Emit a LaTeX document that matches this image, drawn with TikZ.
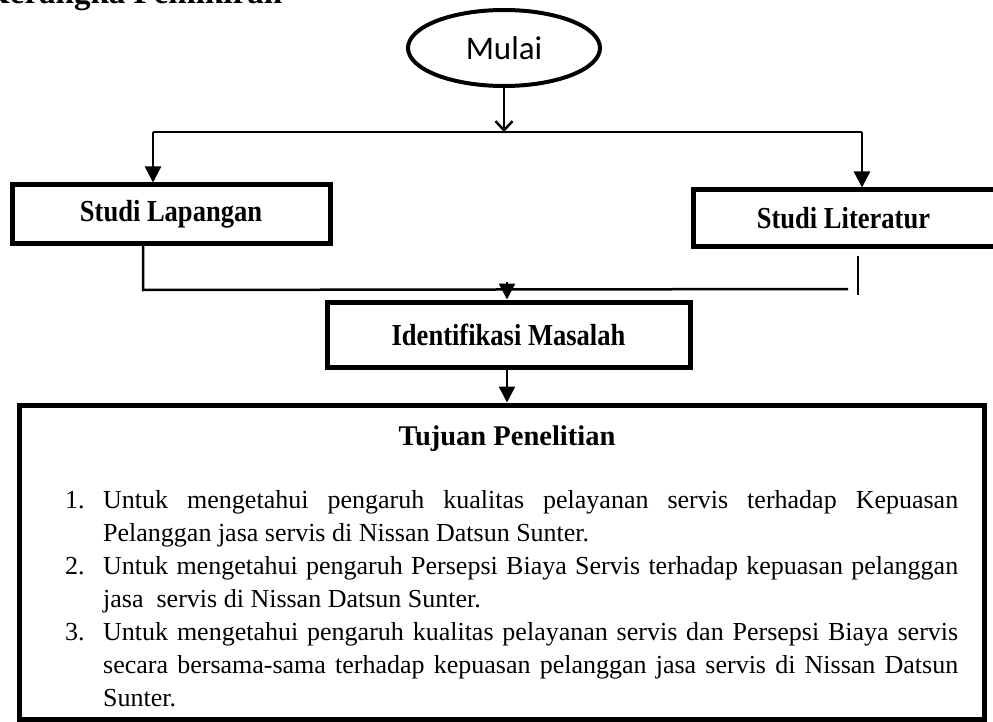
\documentclass[tikz,border=0pt]{standalone}
\usepackage{fontspec}
\usepackage{graphicx}
\setmainfont{Liberation Serif}
\newfontfamily\calibfont{Carlito}
\usetikzlibrary{shapes.geometric,arrows.meta}
\tikzset{
  boxstyle/.style={draw, line width=5pt, rectangle, inner sep=0pt},
  boxlabel/.style={font=\bfseries\fontsize{30.5}{30.5}\selectfont},
  conn/.style={line width=2.5pt},
  arr/.style={conn, -{Triangle[length=16pt,width=16pt]}},
  itemtext/.style={anchor=base west, text width=855pt, align=justify, inner sep=0pt,
    font=\fontsize{26}{33}\selectfont},
  itemnum/.style={anchor=base west, inner sep=0pt, font=\fontsize{26}{33}\selectfont},
}
\newcommand{\cond}[1]{\scalebox{0.87}[1]{#1}}
\begin{document}
\begin{tikzpicture}[x=1pt,y=-1pt]
\useasboundingbox (0,0) rectangle (993,722);
\clip (0,0) rectangle (993,722);
\fill[white] (0,0) rectangle (993,722);
% cut-off heading
\node[anchor=base west, inner sep=0pt, font=\bfseries\fontsize{33}{33}\selectfont] (hd) at (-16,4) {Kerangka Pemikiran};
% nodes
\node[draw, ellipse, line width=4pt, minimum width=192pt, minimum height=76pt, inner sep=0pt,
      font=\calibfont\fontsize{33}{33}\selectfont] (mulai) at (504,48) {Mulai};
\node[boxstyle, minimum width=318pt, minimum height=58pt, boxlabel] (lap) at (171,214) {\cond{Studi Lapangan}};
\node[boxstyle, minimum width=305pt, minimum height=56pt, boxlabel] (lit) at (845.5,218) {\hspace*{-4pt}\cond{Studi Literatur}};
\node[boxstyle, minimum width=363pt, minimum height=65pt, boxlabel] (idm) at (508.5,334.5) {\cond{Identifikasi Masalah}};
\node[boxstyle, minimum width=965pt, minimum height=314pt] (tuj) at (501.5,562) {};
% contents of the Tujuan box
\node[anchor=base, inner sep=0pt, font=\bfseries\fontsize{28.5}{28.5}\selectfont] (tt) at (507,445) {Tujuan Penelitian};
\node[itemnum] (n1) at (65,508) {1.};
\node[itemtext] (i1) at (103,508) {\hyphenpenalty=10000\exhyphenpenalty=10000 Untuk mengetahui pengaruh kualitas pelayanan servis terhadap Kepuasan\linebreak Pelanggan jasa servis di Nissan Datsun Sunter.};
\node[itemnum] (n2) at (65,574) {2.};
\node[itemtext] (i2) at (103,574) {\hyphenpenalty=10000\exhyphenpenalty=10000 Untuk mengetahui pengaruh Persepsi Biaya Servis terhadap kepuasan pelanggan\linebreak jasa\ \ servis di Nissan Datsun Sunter.};
\node[itemnum] (n3) at (65,640) {3.};
\node[itemtext] (i3) at (103,640) {\hyphenpenalty=10000\exhyphenpenalty=10000 Untuk mengetahui pengaruh kualitas pelayanan servis dan Persepsi Biaya servis\linebreak secara bersama-sama terhadap kepuasan pelanggan jasa servis di Nissan Datsun\linebreak Sunter.};
% coordinates for connectors
\coordinate (jl) at (153,132);
\coordinate (jr) at (862,132);
\coordinate (bl) at (143,290);
\coordinate (br) at (848,289);
\coordinate (rv1) at (858,256);
\coordinate (rv2) at (858,295);
\coordinate (ia) at (507,282);
% connectors
\draw[conn, -{Straight Barb[length=9pt,width=17pt,line width=2.5pt]}] (mulai.south) -- (mulai.south |- jl);
\draw[conn] (jl) -- (jr);
\draw[arr] (jl) -- (lap.north -| jl);
\draw[arr] (jr) -- (lit.north -| jr);
\draw[conn] (lap.south -| bl) -- (bl) -- (br);
\draw[conn] (rv1) -- (rv2);
\draw[arr] (ia) -- (idm.north -| ia);
\draw[arr] (idm.south -| ia) -- (tuj.north -| ia);
\end{tikzpicture}
\end{document}
